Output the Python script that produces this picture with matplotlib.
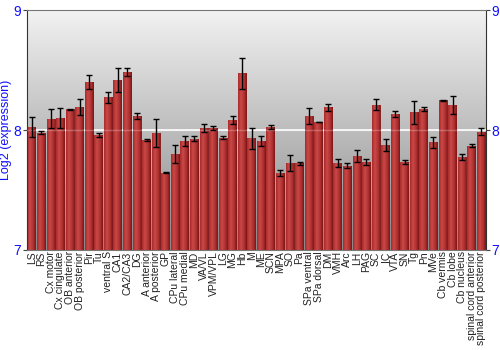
import numpy as np
import matplotlib
matplotlib.use('Agg')
import matplotlib.pyplot as plt

plt.rcParams['font.family'] = ['Liberation Sans', 'DejaVu Sans']

regions = ['LS', 'RS', 'Cx motor', 'Cx cingulate', 'OB anterior', 'OB posterior', 'Pir', 'Tu',
           'ventral S', 'CA1', 'CA2/CA3', 'DG', 'A anterior', 'A posterior', 'GP', 'CPu lateral',
           'CPu medial', 'MD', 'VA/VL', 'VPM/VPL', 'LG', 'MG', 'Hb', 'M', 'ME', 'SCN', 'MPA', 'SO',
           'Pa', 'SPa ventral', 'SPa dorsal', 'DM', 'VMH', 'Arc', 'LH', 'PAG', 'SC', 'IC', 'VTA',
           'SN', 'Tg', 'Pn', 'MVe', 'Cb vermis', 'Cb lobe', 'Cb nucleus',
           'spinal cord anterior', 'spinal cord posterior']

expr = [8.022, 7.978, 8.094, 8.100, 8.172, 8.194, 8.400, 7.958,
        8.272, 8.417, 8.483, 8.114, 7.917, 7.975, 7.642, 7.800,
        7.908, 7.928, 8.014, 8.017, 7.936, 8.083, 8.475, 7.933, 7.911, 8.025, 7.642, 7.728,
        7.722, 8.117, 8.067, 8.189, 7.722, 7.703, 7.783, 7.733, 8.211, 7.875, 8.133,
        7.733, 8.147, 8.175, 7.897, 8.250, 8.211, 7.778,
        7.869, 7.986]

err = [0.083, 0.010, 0.080, 0.080, 0.004, 0.065, 0.055, 0.020,
       0.045, 0.100, 0.036, 0.025, 0.012, 0.115, 0.004, 0.078,
       0.043, 0.022, 0.033, 0.015, 0.010, 0.032, 0.130, 0.088, 0.042, 0.020, 0.022, 0.067,
       0.010, 0.070, 0.004, 0.027, 0.033, 0.020, 0.050, 0.025, 0.046, 0.047, 0.022,
       0.017, 0.095, 0.020, 0.046, 0.004, 0.077, 0.024,
       0.012, 0.027]

blue = '#1010ff'
fig = plt.figure(figsize=(5, 3.5), dpi=100)
ax = fig.add_axes([0.054, 0.286, 0.918, 0.685])

x = np.arange(len(regions))
ax.set_xlim(-0.5, len(regions) - 0.5)
ax.set_ylim(7, 9)

# fond gris en degrade
grad = np.linspace(0, 1, 256).reshape(-1, 1)
bg = matplotlib.colors.LinearSegmentedColormap.from_list('bg', ['#888888', '#f2f2f2'])
ax.imshow(grad, cmap=bg, origin='lower', aspect='auto', extent=(-0.5, len(regions) - 0.5, 7, 9), zorder=0)
ax.axhline(8, color='white', lw=1.2, zorder=1)

bars = ax.bar(x, np.array(expr) - 7, bottom=7, width=0.92, color='#b03030', zorder=2)
# degrade rouge horizontal dans chaque barre
hgrad = np.linspace(0, 1, 64).reshape(1, -1)
red = matplotlib.colors.LinearSegmentedColormap.from_list('red', ['#a82a2a', '#cc4a4a', '#b43434', '#7a1414'])
for b in bars:
    x0, w, h = b.get_x(), b.get_width(), b.get_height()
    im = ax.imshow(hgrad, cmap=red, aspect='auto', extent=(x0, x0 + w, 7, 7 + h), zorder=2.5, alpha=0.93)
    im.set_clip_path(b)

ax.errorbar(x, expr, yerr=err, fmt='none', ecolor='black', elinewidth=1, capsize=2, capthick=1, zorder=3)
ax.axhline(8, color='white', lw=1.0, alpha=0.25, zorder=2.8)

ax.set_xticks(x)
ax.set_xticklabels(regions, rotation=90, fontsize=7.5, color='#222222')
ax.tick_params(axis='x', length=0, pad=1)
ax.set_yticks([7, 8, 9])
ax.tick_params(axis='y', colors='#444444', labelcolor=blue, labelsize=10, length=3, pad=1,
               right=True, labelright=True)
ax.set_ylabel('Log2 (expression)', color=blue, fontsize=9, labelpad=0)
ax.yaxis.set_label_coords(-0.033, 0.5)
for s in ax.spines.values():
    s.set_color('#777777')
ax.spines['left'].set_color('#333333')
ax.spines['right'].set_color('#333333')

fig.savefig('out.png', dpi=100)
